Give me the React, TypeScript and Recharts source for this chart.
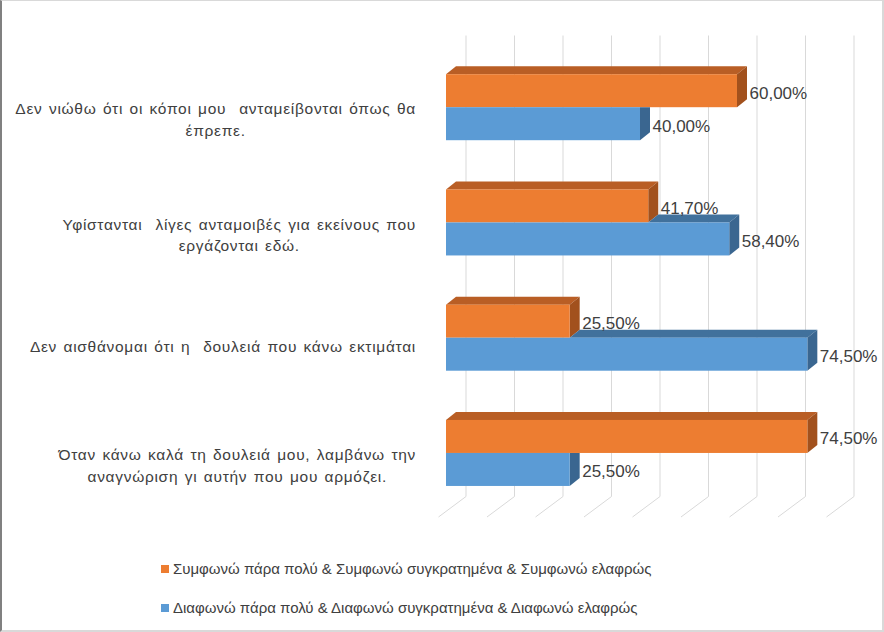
import { Bar, BarChart, CartesianGrid, LabelList, Legend, XAxis, YAxis } from "recharts";

const CATEGORIES = [
  "Δεν νιώθω ότι οι κόποι μου  ανταμείβονται όπως θα\nέπρεπε.",
  "Υφίστανται  λίγες ανταμοιβές για εκείνους που\nεργάζονται εδώ.",
  "Δεν αισθάνομαι ότι η  δουλειά που κάνω εκτιμάται",
  "Όταν κάνω καλά τη δουλειά μου, λαμβάνω την\nαναγνώριση γι αυτήν που μου αρμόζει.",
];
const AGREE = [60, 41.7, 25.5, 74.5];
const DISAGREE = [40, 58.4, 74.5, 25.5];
const X_TICKS = [0, 10, 20, 30, 40, 50, 60, 70, 80];
const AGREE_NAME = "Συμφωνώ πάρα πολύ & Συμφωνώ συγκρατημένα & Συμφωνώ ελαφρώς";
const DISAGREE_NAME = "Διαφωνώ πάρα πολύ & Διαφωνώ συγκρατημένα & Διαφωνώ ελαφρώς";
const SERIES_ORDER = ["agree", "disagree"];

const data = CATEGORIES.map((category, i) => ({
  category,
  agree: AGREE[i],
  disagree: DISAGREE[i],
}));

const FONT = "'Liberation Sans', Arial, sans-serif";
const TEXT = "#404040";
const GRID = "#d9d9d9";

const ORANGE = { front: "#ed7d31", top: "#b95e25", side: "#a2511d" };
const BLUE = { front: "#5b9bd5", top: "#41719c", side: "#3a6690" };

// bar depth
const DX = 10;
const DY = 8;
// back wall / floor depth for the grid
const WALL_DX = 20;
const WALL_DY = 14.5;
const FLOOR_DX = 7.5;
const FLOOR_DY = 6;

// category labels: spaced out like the original
const CAT_SIZE = 15.5;
const CAT_LETTER = 0.7;
const CAT_WORD = 1.5;

let ctx: CanvasRenderingContext2D | null = null;
function measure(s: string) {
  if (!ctx) ctx = document.createElement("canvas").getContext("2d");
  const spaces = s.split(" ").length - 1;
  const extra = s.length * CAT_LETTER + spaces * CAT_WORD;
  if (!ctx) return s.length * 7 + extra;
  ctx.font = `${CAT_SIZE}px 'Liberation Sans'`;
  return ctx.measureText(s).width + extra;
}

const fmt = (v: number) => `${v.toFixed(2).replace(".", ",")}%`;

function AgreeShape(p: any) {
  const { x, y, width: w, height: h } = p;
  return (
    <g>
      <polygon points={`${x},${y} ${x + DX},${y - DY} ${x + w + DX},${y - DY} ${x + w},${y}`} fill={ORANGE.top} />
      <polygon points={`${x + w},${y} ${x + w + DX},${y - DY} ${x + w + DX},${y + h - DY} ${x + w},${y + h}`} fill={ORANGE.side} />
      <rect x={x} y={y} width={w} height={h} fill={ORANGE.front} />
    </g>
  );
}

// the orange bar sits on top of this one and hides part of its top face
function DisagreeShape(p: any) {
  const { x, y, width: w, height: h, payload } = p;
  const above = (w * payload.agree) / payload.disagree;
  return (
    <g>
      {w > above ? (
        <>
          <polygon points={`${x + above},${y} ${x + above + DX},${y - DY} ${x + w + DX},${y - DY} ${x + w},${y}`} fill={BLUE.top} />
          <polygon points={`${x + w},${y} ${x + w + DX},${y - DY} ${x + w + DX},${y + h - DY} ${x + w},${y + h}`} fill={BLUE.side} />
        </>
      ) : (
        <polygon points={`${x + w},${y} ${x + w + DX},${y} ${x + w + DX},${y + h - DY} ${x + w},${y + h}`} fill={BLUE.side} />
      )}
      <rect x={x} y={y} width={w} height={h} fill={BLUE.front} />
    </g>
  );
}

function ValueLabel(p: any) {
  const box = p.viewBox ?? p;
  const { x, y, width, height } = box;
  return (
    <text
      x={x + width + DX + 2.5}
      y={y + height / 2 + 2}
      dy="0.35em"
      fontSize={17}
      fontFamily={FONT}
      fill={TEXT}
    >
      {fmt(Number(p.value))}
    </text>
  );
}

function CategoryTick({ x, y, payload }: any) {
  const lines = String(payload.value).split("\n");
  const widest = Math.max(...lines.map((l) => measure(l)));
  const cx = x - 22 - widest / 2;
  const lineH = 21.5;
  const first = y + (lines.length === 1 ? 8 : 12) - ((lines.length - 1) * lineH) / 2;
  return (
    <text
      textAnchor="middle"
      fontSize={CAT_SIZE}
      fontFamily={FONT}
      fill={TEXT}
      letterSpacing={CAT_LETTER}
      wordSpacing={CAT_WORD}
      style={{ whiteSpace: "pre" }}
    >
      {lines.map((l, i) => (
        <tspan key={i} x={cx} y={first + i * lineH} dy="0.35em">
          {l}
        </tspan>
      ))}
    </text>
  );
}

function GridLine(p: any) {
  const { x1, y1, y2 } = p;
  const bx = x1 + WALL_DX;
  return (
    <path
      key={p.key}
      d={`M${bx},${y1 - WALL_DY} L${bx},${y2 - WALL_DY} L${x1 - FLOOR_DX},${y2 + FLOOR_DY}`}
      stroke={GRID}
      strokeWidth={1}
      fill="none"
    />
  );
}

function LegendContent({ payload }: any) {
  const items = [...(payload ?? [])].sort(
    (a: any, b: any) => SERIES_ORDER.indexOf(a.dataKey) - SERIES_ORDER.indexOf(b.dataKey),
  );
  return (
    <div style={{ fontFamily: FONT, fontSize: 15, color: TEXT }}>
      {items.map((e: any) => (
        <div key={e.value} style={{ display: "flex", alignItems: "center", height: 39 }}>
          <span style={{ width: 8, height: 8, background: e.color, marginRight: 4, flex: "none" }} />
          <span style={{ whiteSpace: "nowrap" }}>{e.value}</span>
        </div>
      ))}
    </div>
  );
}

export default function App() {
  return (
    <div style={{ position: "relative", width: 884, height: 632, background: "#fff" }}>
      <style>{"body{margin:0}"}</style>
      <BarChart
        width={884}
        height={632}
        data={data}
        layout="vertical"
        margin={{ top: 50, right: 50, bottom: 121, left: 0 }}
        barGap={0}
        barCategoryGap="21%"
      >
        <CartesianGrid horizontal={false} vertical={GridLine} />
        <XAxis type="number" domain={[0, 80]} ticks={X_TICKS} hide />
        <YAxis
          type="category"
          dataKey="category"
          width={446}
          axisLine={false}
          tickLine={false}
          tick={CategoryTick}
          interval={0}
        />
        <Legend
          layout="vertical"
          align="center"
          verticalAlign="middle"
          wrapperStyle={{ top: 549, left: 161, width: 560 }}
          content={LegendContent}
        />
        <Bar dataKey="agree" name={AGREE_NAME} fill={ORANGE.front} shape={AgreeShape} isAnimationActive={false}>
          <LabelList dataKey="agree" content={ValueLabel} />
        </Bar>
        <Bar dataKey="disagree" name={DISAGREE_NAME} fill={BLUE.front} shape={DisagreeShape} isAnimationActive={false}>
          <LabelList dataKey="disagree" content={ValueLabel} />
        </Bar>
      </BarChart>
      <div
        style={{
          position: "absolute",
          inset: 0,
          pointerEvents: "none",
          borderTop: "1px solid #d9d9d9",
          borderRight: "2px solid #d9d9d9",
          borderBottom: "2px solid #d9d9d9",
          borderLeft: "2px solid #808080",
        }}
      />
    </div>
  );
}
